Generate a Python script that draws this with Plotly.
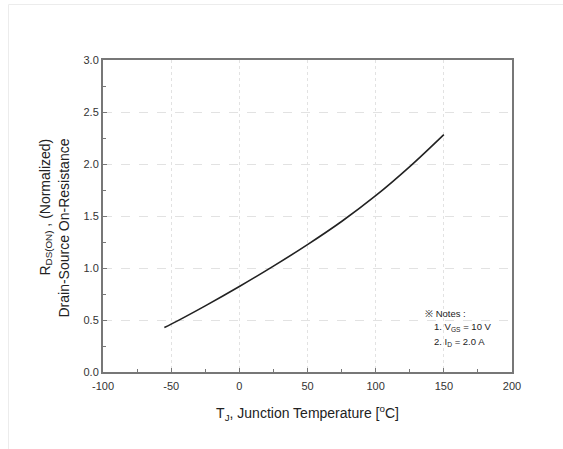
import plotly.graph_objects as go

# Normalized on-resistance vs. junction temperature
temp_c = [-55, -50, -25, 0, 25, 50, 75, 100, 125, 150]
rds_norm = [0.428, 0.46, 0.636, 0.822, 1.018, 1.225, 1.447, 1.695, 1.975, 2.283]

x_ticks = [-100, -50, 0, 50, 100, 150, 200]
y_ticks = [0.0, 0.5, 1.0, 1.5, 2.0, 2.5, 3.0]

FONT = "Liberation Sans Narrow, Liberation Sans, Arial, sans-serif"
AXIS_COLOR = "#777777"
GRID_COLOR = "#e2e2e2"
TEXT_COLOR = "#222222"

# plot-area geometry in pixels
L, R, T, B = 103, 51, 60, 77
W, H = 563, 449
PW, PH = W - L - R, H - T - B


def px_x(px):
    return (px - L) / PW


def px_y(px):
    return 1 - (px - T) / PH


fig = go.Figure()
fig.add_trace(go.Scatter(
    x=temp_c, y=rds_norm, mode="lines",
    line=dict(color=TEXT_COLOR, width=1.6, shape="spline", smoothing=1.0),
    showlegend=False, hoverinfo="skip",
))

common_axis = dict(
    showline=True, linecolor=AXIS_COLOR, linewidth=2, mirror=True,
    ticks="inside", ticklen=4, tickcolor=AXIS_COLOR, tickwidth=1,
    showgrid=True, gridcolor=GRID_COLOR, gridwidth=1,
    zeroline=False,
    tickfont=dict(family=FONT, size=11, color="#333333"),
)

fig.update_xaxes(
    range=[-100, 200], tickvals=x_ticks, ticktext=[str(v) for v in x_ticks],
    griddash="dot", ticklabelstandoff=3,
    minor=dict(dtick=25, tick0=0, ticks="inside", ticklen=3, tickcolor=AXIS_COLOR, showgrid=False),
    title=dict(text="T<sub>J</sub>, Junction Temperature [<sup>o</sup>C]",
               font=dict(family=FONT, size=14, color=TEXT_COLOR), standoff=17),
    **common_axis,
)
fig.update_yaxes(
    range=[0, 3], tickvals=y_ticks, ticktext=[f"{v:.1f}" for v in y_ticks],
    griddash="dash",
    minor=dict(dtick=0.25, tick0=0, ticks="inside", ticklen=3, tickcolor=AXIS_COLOR, showgrid=False),
    **common_axis,
)

# y-axis title: two lines, aligned at their upper ends
title_font = dict(family=FONT, size=14, color=TEXT_COLOR)
fig.add_annotation(x=px_x(45), y=px_y(137), xref="paper", yref="paper",
                   text="R<sub>DS(ON)</sub> , (Normalized)", textangle=-90,
                   showarrow=False, xanchor="center", yanchor="top", font=title_font)
fig.add_annotation(x=px_x(63), y=px_y(137), xref="paper", yref="paper",
                   text="Drain-Source On-Resistance", textangle=-90,
                   showarrow=False, xanchor="center", yanchor="top", font=title_font)

# test-condition notes
note_font = dict(family=FONT, size=9.5, color=TEXT_COLOR)
fig.add_annotation(x=135, y=0.56, xref="x", yref="y", text="※ Notes :",
                   showarrow=False, xanchor="left", yanchor="middle", font=note_font)
fig.add_annotation(x=141, y=0.435, xref="x", yref="y", text="1. V<sub>GS</sub> = 10 V",
                   showarrow=False, xanchor="left", yanchor="middle", font=note_font)
fig.add_annotation(x=141, y=0.29, xref="x", yref="y", text="2. I<sub>D</sub> = 2.0 A",
                   showarrow=False, xanchor="left", yanchor="middle", font=note_font)

# faint page frame
fig.add_shape(type="rect", xref="paper", yref="paper",
              x0=px_x(8.5), x1=px_x(600), y0=px_y(470), y1=px_y(4.5),
              line=dict(color="#ececec", width=1), layer="below")

fig.update_layout(
    width=W, height=H,
    margin=dict(l=L, r=R, t=T, b=B),
    paper_bgcolor="white", plot_bgcolor="white",
    font=dict(family=FONT),
)

fig.write_html("out.html")
